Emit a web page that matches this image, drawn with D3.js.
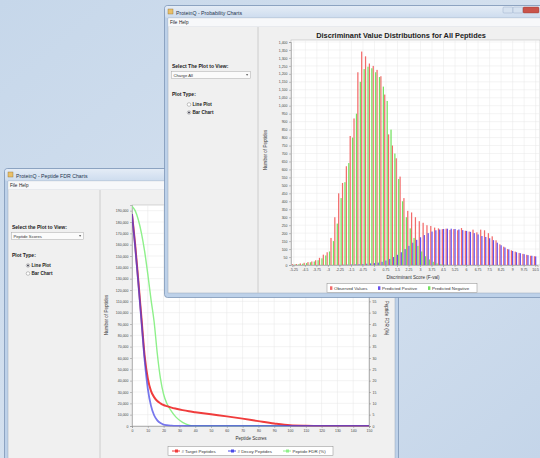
<!DOCTYPE html>
<html>
<head>
<meta charset="utf-8">
<script src="https://cdn.jsdelivr.net/npm/d3@7"></script>
<style>
body { margin: 0; background: #c9d9eb; }
svg { display: block; font-family: "Liberation Sans", Arial, sans-serif; }
.axis path, .axis line { stroke: #8a8a8a; stroke-width: 0.5; }
.axis text { fill: #444; font-size: 3.5px; }
</style>
</head>
<body>
<svg id="scene" width="540" height="458"></svg>
<script>
// ---- data: probability chart (front window) ----
const binLabels = ["-5.25","-5","-4.75","-4.5","-4.25","-4","-3.75","-3.5","-3.25","-3",
    "-2.75","-2.5","-2.25","-2","-1.75","-1.5","-1.25","-1","-0.75","-0.5",
    "-0.25","0","0.25","0.5","0.75","1","1.25","1.5","1.75","2",
    "2.25","2.5","2.75","3","3.25","3.5","3.75","4","4.25","4.5",
    "4.75","5","5.25","5.5","5.75","6","6.25","6.5","6.75","7",
    "7.25","7.5","7.75","8","8.25","8.5","8.75","9","9.25","9.5",
    "9.75","10","10.25","10.5"];
const observedValues = [5,6,10,14,18,22,30,45,65,80,
    170,300,450,515,620,810,920,1210,1340,1310,
    1265,1250,1225,1185,1070,820,750,670,555,420,
    340,330,300,275,265,250,245,235,230,225,
    228,220,225,218,232,215,210,222,205,222,
    218,200,180,155,130,115,100,92,84,76,
    70,64,58,55];
const predictedPositive = [0,0,0,0,0,0,0,0,0,0,
    0,0,1,2,2,3,4,5,6,8,
    10,12,15,20,28,38,50,64,80,100,
    120,140,158,174,188,200,210,218,223,226,
    228,228,226,223,219,214,208,200,192,182,
    176,168,156,140,124,110,98,88,80,74,
    68,62,58,54];
const predictedNegative = [3,5,8,12,17,22,30,42,60,85,
    150,260,420,520,640,800,950,1150,1230,1245,
    1235,1210,1180,1120,1030,850,700,540,400,300,
    230,170,120,85,55,35,20,10,5,2,
    1,0,0,0,0,0,0,0,0,0,
    0,0,0,0,0,0,0,0,0,0,
    0,0,0,0];
const binTickLabels = ["-5.25","-4.5","-3.75","-3","-2.25","-1.5","-0.75","0","0.75","1.5","2.25",
    "3","3.75","4.5","5.25","6","6.75","7.5","8.25","9","9.75","10.5"];
const countTicks = [0,50,100,150,200,250,300,350,400,450,500,550,600,650,700,750,800,850,900,950,
    1000,1050,1100,1150,1200,1250,1300,1350,1400];
const probSeries = ["Observed Values", "Predicted Positive", "Predicted Negative"];

// ---- data: peptide FDR chart (back window) ----
const peptideScores = [0,2,4,6,8,10,12,14,16,18,20,22,25,28,32,36,40,50,60,70,80,90,100,110,120,130,140,150];
const targetPeptides = [187000,160000,128000,95000,62000,42000,31000,25500,22000,20000,18500,17500,16200,15200,
    14000,13000,12200,10300,8500,6500,4300,2200,600,150,0,0,0,0];
const decoyPeptides = [187000,158000,126000,92000,58000,33000,18000,9500,5000,2600,1300,700,300,100,
    30,0,0,0,0,0,0,0,0,0,0,0,0,0];
const peptideFdr = [97,95,91,85,77,67,56,46,32,21,14,10,6.5,3.8,1.6,0.4,0,0,0,0,0,0,0,0,0,0,0,0];
const scoreTicks = [0,10,20,30,40,50,60,70,80,90,100,110,120,130,140,150];
const peptideTicks = [0,10000,20000,30000,40000,50000,60000,70000,80000,90000,100000,
    110000,120000,130000,140000,150000,160000,170000,180000,190000];
// right axis labels that are not covered by the front window
const fdrTicks = [0,5,10,15,20,25,30,35,40,45,50,55];
const fdrSeries = ["# Target Peptides", "# Decoy Peptides", "Peptide FDR (%)"];

const svg = d3.select("#scene");
const defs = svg.append("defs");

// background
const bg = defs.append("linearGradient").attr("id", "bg")
    .attr("x1", 0).attr("y1", 0).attr("x2", 1).attr("y2", 1);
bg.append("stop").attr("offset", "0%").attr("stop-color", "#c6d7ea");
bg.append("stop").attr("offset", "55%").attr("stop-color", "#d5e1ef");
bg.append("stop").attr("offset", "100%").attr("stop-color", "#c4d5e9");
svg.append("rect").attr("width", 540).attr("height", 458).attr("fill", "url(#bg)");

const tg = defs.append("linearGradient").attr("id", "titleGrad")
    .attr("x1", 0).attr("y1", 0).attr("x2", 0).attr("y2", 1);
tg.append("stop").attr("offset", "0%").attr("stop-color", "#e4ecf6");
tg.append("stop").attr("offset", "100%").attr("stop-color", "#cddcee");

defs.append("filter").attr("id", "soft")
    .append("feGaussianBlur").attr("stdDeviation", 0.3);

// draws a window frame, returns the group
function drawWindow(b) {
    const g = svg.append("g");
    g.append("rect").attr("x", b.x + 0.5).attr("y", b.y + 0.5)
        .attr("width", b.w).attr("height", b.h).attr("rx", 3)
        .attr("fill", "#bdd1e9").attr("stroke", "#7d96b6").attr("stroke-width", 0.8);
    g.append("rect").attr("x", b.x + 1).attr("y", b.y + 1)
        .attr("width", b.w - 1).attr("height", 12).attr("rx", 2.5)
        .attr("fill", "url(#titleGrad)");
    // app icon
    g.append("rect").attr("x", b.x + 4).attr("y", b.y + 4).attr("width", 5).attr("height", 5)
        .attr("fill", "#e9c06a").attr("stroke", "#8d6e31").attr("stroke-width", 0.4);
    g.append("text").attr("x", b.x + 12).attr("y", b.y + 9.5)
        .attr("font-size", 5.2).attr("fill", "#24344e").text(b.title);
    // client area
    g.append("rect").attr("x", b.cx).attr("y", b.cy).attr("width", b.cw).attr("height", b.ch)
        .attr("fill", "#f0f0f0").attr("stroke", "#98a8bc").attr("stroke-width", 0.5);
    // menu bar
    g.append("rect").attr("x", b.cx + 0.3).attr("y", b.cy + 0.3).attr("width", b.cw - 0.6).attr("height", 8)
        .attr("fill", "#f7f8fa");
    g.append("line").attr("x1", b.cx).attr("x2", b.cx + b.cw).attr("y1", b.cy + 8.5).attr("y2", b.cy + 8.5)
        .attr("stroke", "#dfe3e8").attr("stroke-width", 0.5);
    g.append("text").attr("x", b.cx + 2).attr("y", b.cy + 6).attr("font-size", 4.6).attr("fill", "#222").text("File");
    g.append("text").attr("x", b.cx + 11).attr("y", b.cy + 6).attr("font-size", 4.6).attr("fill", "#222").text("Help");
    // left panel divider
    g.append("line").attr("x1", b.split).attr("x2", b.split).attr("y1", b.cy + 9).attr("y2", b.cy + b.ch)
        .attr("stroke", "#c4c4c4").attr("stroke-width", 0.8);
    return g;
}

// left control panel: label, combo box, radio buttons
function drawControls(g, c) {
    g.append("text").attr("x", c.x).attr("y", c.y).attr("font-size", 5).attr("font-weight", "bold")
        .attr("fill", "#222").text(c.selectLabel);
    g.append("rect").attr("x", c.x - 0.5).attr("y", c.y + 3.5).attr("width", c.comboW).attr("height", 7)
        .attr("fill", "#fbfbfb").attr("stroke", "#a9a9a9").attr("stroke-width", 0.5);
    g.append("text").attr("x", c.x + 1.5).attr("y", c.y + 8.8).attr("font-size", 4.2).attr("fill", "#333").text(c.combo);
    g.append("path")
        .attr("d", `M${c.x + c.comboW - 5},${c.y + 6.3}l2.2,0l-1.1,1.4z`)
        .attr("fill", "#333");
    g.append("text").attr("x", c.x).attr("y", c.y + 28).attr("font-size", 5).attr("font-weight", "bold")
        .attr("fill", "#222").text("Plot Type:");
    ["Line Plot", "Bar Chart"].forEach((lab, i) => {
        const ry = c.y + 36.5 + i * 8;
        g.append("circle").attr("cx", c.x + c.radioDx).attr("cy", ry).attr("r", 1.8)
            .attr("fill", "#fff").attr("stroke", "#8a8a8a").attr("stroke-width", 0.5);
        if (lab === c.selected) {
            g.append("circle").attr("cx", c.x + c.radioDx).attr("cy", ry).attr("r", 0.9).attr("fill", "#334");
        }
        g.append("text").attr("x", c.x + c.radioDx + 3.5).attr("y", ry + 1.6).attr("font-size", 4.6)
            .attr("font-weight", "bold").attr("fill", "#222").text(lab);
    });
}

function styleAxis(sel) {
    sel.attr("class", "axis");
    sel.select(".domain").attr("stroke", "#8a8a8a");
}

// ================= back window: peptide FDR line plot =================
const back = drawWindow({ x: 4, y: 168, w: 394, h: 300, title: "ProteinQ - Peptide FDR Charts",
    cx: 8, cy: 181, cw: 387, ch: 290, split: 100 });
drawControls(back, { x: 12, y: 229, selectLabel: "Select the Plot to View:", combo: "Peptide Scores",
    comboW: 72, radioDx: 16, selected: "Line Plot" });

const bx = d3.scaleLinear().domain([0, 150]).range([132, 369]);
const by = d3.scaleLinear().domain([0, 195000]).range([426, 205]);
const byR = d3.scaleLinear().domain([0, 97.5]).range([426, 205]);

const backPlot = back.append("g");
backPlot.append("rect").attr("x", 132).attr("y", 205).attr("width", 237).attr("height", 221)
    .attr("fill", "#fff").attr("stroke", "#b0b0b0").attr("stroke-width", 0.5);
backPlot.append("g").selectAll("line").data(scoreTicks).join("line")
    .attr("x1", d => bx(d)).attr("x2", d => bx(d)).attr("y1", 205).attr("y2", 426)
    .attr("stroke", "#e6e6e6").attr("stroke-width", 0.5);
backPlot.append("g").selectAll("line").data(peptideTicks).join("line")
    .attr("x1", 132).attr("x2", 369).attr("y1", d => by(d)).attr("y2", d => by(d))
    .attr("stroke", "#e6e6e6").attr("stroke-width", 0.5);

styleAxis(back.append("g").attr("transform", "translate(132,0)")
    .call(d3.axisLeft(by).tickValues(peptideTicks).tickFormat(d3.format(",")).tickSize(2).tickPadding(1.5)));
styleAxis(back.append("g").attr("transform", "translate(369,0)")
    .call(d3.axisRight(byR).tickValues(fdrTicks).tickSize(2).tickPadding(1.5)));
styleAxis(back.append("g").attr("transform", "translate(0,426)")
    .call(d3.axisBottom(bx).tickValues(scoreTicks).tickSize(2).tickPadding(1.5)));

back.append("text").attr("x", 251).attr("y", 440).attr("text-anchor", "middle")
    .attr("font-size", 4.6).attr("fill", "#333").text("Peptide Scores");
back.append("text").attr("transform", "translate(108,315) rotate(-90)").attr("text-anchor", "middle")
    .attr("font-size", 4.6).attr("fill", "#333").text("Number of Peptides");
back.append("text").attr("transform", "translate(385,318) rotate(90)").attr("text-anchor", "middle")
    .attr("font-size", 4.6).attr("fill", "#333").text("Peptide FDR (%)");

const clip = defs.append("clipPath").attr("id", "backClip");
clip.append("rect").attr("x", 132).attr("y", 205).attr("width", 237).attr("height", 221.5);

const lineCount = d3.line().x((d, i) => bx(peptideScores[i])).y(d => by(d)).curve(d3.curveMonotoneX);
const lineFdr = d3.line().x((d, i) => bx(peptideScores[i])).y(d => byR(d)).curve(d3.curveMonotoneX);
const lines = back.append("g").attr("clip-path", "url(#backClip)");
lines.append("path").datum(peptideFdr).attr("d", lineFdr)
    .attr("fill", "none").attr("stroke", "#8ef08a").attr("stroke-width", 1.4);
lines.append("path").datum(targetPeptides).attr("d", lineCount)
    .attr("fill", "none").attr("stroke", "#f03c3c").attr("stroke-width", 2);
lines.append("path").datum(decoyPeptides).attr("d", lineCount)
    .attr("fill", "none").attr("stroke", "#3f3fe6").attr("stroke-width", 1.8).attr("stroke-opacity", 0.7);

// back legend
const backColors = ["#f03c3c", "#4a4ae8", "#8ef08a"];
const bl = back.append("g");
bl.append("rect").attr("x", 168).attr("y", 446.5).attr("width", 165).attr("height", 9)
    .attr("fill", "#fff").attr("stroke", "#8a8a8a").attr("stroke-width", 0.5);
const backLegX = [172, 228, 283];
fdrSeries.forEach((s, i) => {
    bl.append("line").attr("x1", backLegX[i]).attr("x2", backLegX[i] + 8).attr("y1", 451).attr("y2", 451)
        .attr("stroke", backColors[i]).attr("stroke-width", 1);
    bl.append("rect").attr("x", backLegX[i] + 3).attr("y", 449.5).attr("width", 3).attr("height", 3)
        .attr("fill", backColors[i]);
    bl.append("text").attr("x", backLegX[i] + 9.5).attr("y", 452.6).attr("font-size", 4.4)
        .attr("fill", "#333").text(s);
});

// ================= front window: probability bar chart =================
const front = drawWindow({ x: 164, y: 5, w: 385, h: 292, title: "ProteinQ - Probability Charts",
    cx: 168, cy: 18, cw: 380, ch: 275, split: 258 });
// window buttons
const btn = front.append("g");
btn.append("rect").attr("x", 503).attr("y", 7).attr("width", 10).attr("height", 6).attr("rx", 1)
    .attr("fill", "#d6e2f0").attr("stroke", "#8ea5c2").attr("stroke-width", 0.4);
btn.append("rect").attr("x", 513).attr("y", 7).attr("width", 10).attr("height", 6).attr("rx", 1)
    .attr("fill", "#d6e2f0").attr("stroke", "#8ea5c2").attr("stroke-width", 0.4);
btn.append("rect").attr("x", 523).attr("y", 7).attr("width", 16).attr("height", 6).attr("rx", 1)
    .attr("fill", "#c9534a").attr("stroke", "#8e3a33").attr("stroke-width", 0.4);
drawControls(front, { x: 172, y: 68, selectLabel: "Select The Plot to View:", combo: "Charge All",
    comboW: 79, radioDx: 17, selected: "Bar Chart" });

front.append("text").attr("x", 401).attr("y", 37.5).attr("text-anchor", "middle")
    .attr("font-size", 7.4).attr("font-weight", "bold").attr("fill", "#222")
    .text("Discriminant Value Distributions for All Peptides");

const fx = d3.scaleBand().domain(binLabels).range([292, 537.5]).paddingInner(0.04).paddingOuter(0);
const fs = d3.scaleBand().domain(probSeries).range([0, fx.bandwidth()]);
const fy = d3.scaleLinear().domain([0, 1400]).range([265, 42]);

front.append("rect").attr("x", 291).attr("y", 40).attr("width", 249).attr("height", 225)
    .attr("fill", "#fff").attr("stroke", "#b0b0b0").attr("stroke-width", 0.5);
front.append("g").selectAll("line").data(countTicks).join("line")
    .attr("x1", 291).attr("x2", 540).attr("y1", d => fy(d)).attr("y2", d => fy(d))
    .attr("stroke", "#e8e8e8").attr("stroke-width", 0.5);
front.append("g").selectAll("line").data(binTickLabels).join("line")
    .attr("x1", d => fx(d) + fx.bandwidth() / 2).attr("x2", d => fx(d) + fx.bandwidth() / 2)
    .attr("y1", 40).attr("y2", 265)
    .attr("stroke", "#e8e8e8").attr("stroke-width", 0.5);

const probColors = { "Observed Values": "#f26a6a", "Predicted Positive": "#6650ee", "Predicted Negative": "#72e05e" };
const probData = [observedValues, predictedPositive, predictedNegative];
const bars = front.append("g").attr("filter", "url(#soft)");
probSeries.forEach((s, si) => {
    bars.append("g").selectAll("rect").data(probData[si]).join("rect")
        .attr("x", (d, i) => fx(binLabels[i]) + fs(s))
        .attr("width", fs.bandwidth())
        .attr("y", d => fy(d))
        .attr("height", d => 265 - fy(d))
        .attr("fill", probColors[s]);
});

styleAxis(front.append("g").attr("transform", "translate(291,0)")
    .call(d3.axisLeft(fy).tickValues(countTicks).tickFormat(d3.format(",")).tickSize(2).tickPadding(1.5)));
styleAxis(front.append("g").attr("transform", "translate(0,265)")
    .call(d3.axisBottom(fx).tickValues(binTickLabels).tickSize(2).tickPadding(1.2)));

front.append("text").attr("x", 413).attr("y", 278.5).attr("text-anchor", "middle")
    .attr("font-size", 4.6).attr("fill", "#333").text("Discriminant Score (F-val)");
front.append("text").attr("transform", "translate(267,150) rotate(-90)").attr("text-anchor", "middle")
    .attr("font-size", 4.6).attr("fill", "#333").text("Number of Peptides");

// front legend
const fl = front.append("g");
fl.append("rect").attr("x", 327).attr("y", 283.5).attr("width", 150).attr("height", 9)
    .attr("fill", "#fff").attr("stroke", "#8a8a8a").attr("stroke-width", 0.5);
const frontLegX = [330, 378, 428];
probSeries.forEach((s, i) => {
    fl.append("rect").attr("x", frontLegX[i]).attr("y", 286.3).attr("width", 2.4).attr("height", 3.6)
        .attr("fill", probColors[s]);
    fl.append("text").attr("x", frontLegX[i] + 4).attr("y", 289.7).attr("font-size", 4.4)
        .attr("fill", "#333").text(s);
});
</script>
</body>
</html>
